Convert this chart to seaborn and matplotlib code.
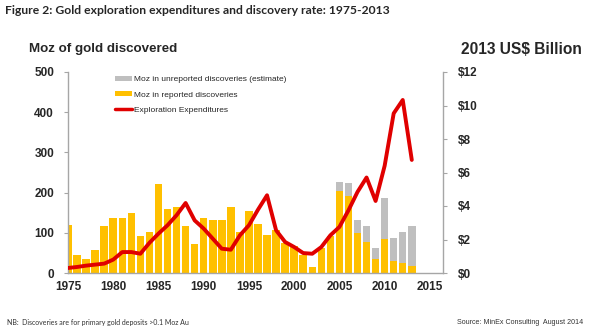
import matplotlib
matplotlib.use("Agg")
import matplotlib.pyplot as plt
from matplotlib.patches import Patch
from matplotlib.lines import Line2D
import seaborn as sns
import pandas as pd
import numpy as np

years = list(range(1975, 2014))
reported = [120, 45, 34, 57, 118, 137, 137, 150, 92, 101,
            221, 160, 164, 116, 72, 136, 132, 132, 164, 101,
            154, 123, 94, 106, 74, 66, 46, 15, 62, 91,
            204, 192, 99, 76, 34, 84, 30, 24, 17]
unreported = [0, 0, 0, 0, 0, 0, 0, 0, 0, 0,
              0, 0, 0, 0, 0, 0, 0, 0, 0, 0,
              0, 0, 0, 0, 0, 0, 0, 0, 0, 0,
              23, 32, 34, 42, 29, 102, 57, 79, 99]
expenditure = [0.30, 0.36, 0.44, 0.50, 0.56, 0.80, 1.25, 1.25, 1.15, 1.80,
               2.35, 2.85, 3.45, 4.18, 3.14, 2.65, 2.05, 1.45, 1.39, 2.25,
               2.85, 3.78, 4.64, 2.55, 1.85, 1.55, 1.19, 1.15, 1.55, 2.25,
               2.75, 3.74, 4.84, 5.70, 4.30, 6.40, 9.53, 10.33, 6.75]

left_ticks = [0, 100, 200, 300, 400, 500]
right_ticks = [0, 2, 4, 6, 8, 10, 12]
right_labels = [r"\$0", r"\$2", r"\$4", r"\$6", r"\$8", r"\$10", r"\$12"]
x_ticks = [1975, 1980, 1985, 1990, 1995, 2000, 2005, 2010, 2015]

title = "Figure 2: Gold exploration expenditures and discovery rate: 1975-2013"
left_title = "Moz of gold discovered"
right_title = r"2013 US\$ Billion"
legend_labels = ["Moz in unreported discoveries (estimate)",
                 "Moz in reported discoveries",
                 "Exploration Expenditures"]
note = "NB:  Discoveries are for primary gold deposits >0.1 Moz Au"
source = "Source: MinEx Consulting  August 2014"

sns.set_style("white")
plt.rcParams["font.family"] = ["Liberation Sans", "DejaVu Sans"]

GREY = "#BFBFBF"
GOLD = "#FFC000"
RED = "#E00000"
AXC = "#A6A6A6"

df = pd.DataFrame({"year": years,
                   "reported": reported,
                   "total": np.array(reported) + np.array(unreported)})

fig = plt.figure(figsize=(5.9, 3.34), dpi=100)
ax = fig.add_axes([68 / 590, 1 - 273 / 334, (443 - 68) / 590, (273 - 72) / 334])

sns.barplot(data=df, x="year", y="total", native_scale=True, color=GREY,
            width=0.83, saturation=1, errorbar=None, ax=ax, linewidth=0)
sns.barplot(data=df, x="year", y="reported", native_scale=True, color=GOLD,
            width=0.83, saturation=1, errorbar=None, ax=ax, linewidth=0)

ax.set_xlim(1975, 2016.45)
ax.set_ylim(0, 500)
ax.set_xticks(x_ticks)
ax.set_xticklabels([str(t) for t in x_ticks])
ax.set_yticks(left_ticks)
ax.set_yticklabels([str(t) for t in left_ticks])
ax.set_xlabel("")
ax.set_ylabel("")

ax2 = ax.twinx()
sns.lineplot(x=years, y=expenditure, color=RED, linewidth=2.8, ax=ax2)
ax2.set_ylim(0, 12)
ax2.set_yticks(right_ticks)
ax2.set_yticklabels(right_labels)
ax2.set_xlim(1975, 2016.45)

for a in (ax, ax2):
    for s in a.spines.values():
        s.set_color(AXC)
        s.set_linewidth(1.0)
    a.spines["top"].set_visible(False)
ax.spines["right"].set_visible(False)
ax2.spines["left"].set_visible(False)
ax2.spines["bottom"].set_visible(False)

ax.tick_params(axis="both", which="major", direction="out", length=3, width=0.8,
               color=AXC, labelsize=8.5, pad=3)
ax.tick_params(axis="y", pad=7)
ax2.tick_params(axis="y", direction="out", length=3, width=0.8, color=AXC,
                labelsize=8.5, pad=8)
for lab in ax.get_xticklabels() + ax.get_yticklabels() + ax2.get_yticklabels():
    lab.set_fontweight("bold")

handles = [Patch(facecolor=GREY, edgecolor="none"),
           Patch(facecolor=GOLD, edgecolor="none"),
           Line2D([0], [0], color=RED, linewidth=2.5)]
leg = ax.legend(handles, legend_labels, loc="upper left",
                bbox_to_anchor=(42 / 375, 1.005), frameon=False,
                fontsize=6.05, handlelength=2.0, handleheight=0.5,
                handletextpad=0.3, labelspacing=0.95, borderaxespad=0.2)

fig.text(5 / 590, 1 - 11 / 334, title, fontsize=8.7, fontweight="bold",
         family=["Lato", "DejaVu Sans"], va="center", ha="left")
fig.text(29 / 590, 1 - 49 / 334, left_title, fontsize=9.6, fontweight="bold",
         va="center", ha="left")
fig.text(582 / 590, 1 - 49 / 334, right_title, fontsize=11.2, fontweight="bold",
         va="center", ha="right")
fig.text(7 / 590, 1 - 322 / 334, note, fontsize=5.0, color="#333333",
         family=["Lato", "DejaVu Sans"], va="center", ha="left")
fig.text(583 / 590, 1 - 322 / 334, source, fontsize=5.1, color="#333333",
         va="center", ha="right")

fig.savefig("out.png", dpi=100)
